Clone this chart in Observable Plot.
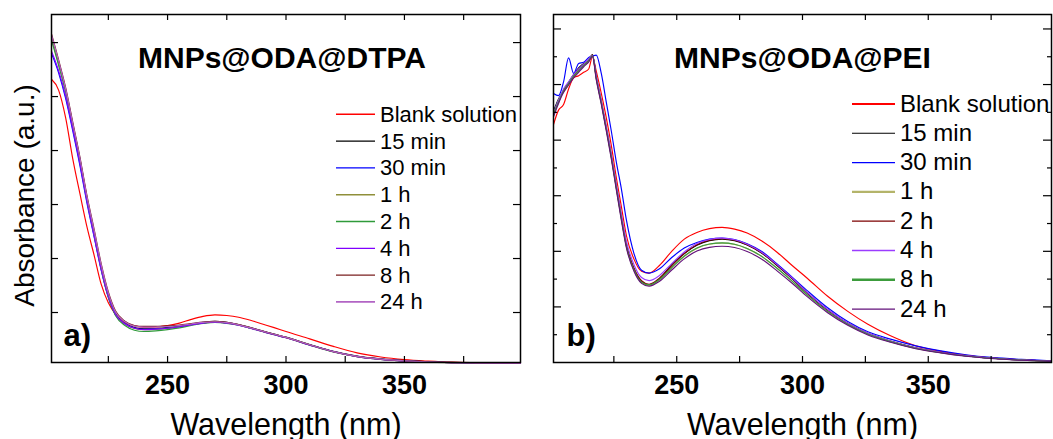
<!DOCTYPE html>
<html>
<head>
<meta charset="utf-8">
<script src="https://cdn.jsdelivr.net/npm/d3@7"></script>
<script src="https://cdn.jsdelivr.net/npm/@observablehq/plot@0.6"></script>
<style>
  html, body { margin: 0; padding: 0; background: #fff; }
  body { width: 1053px; height: 439px; overflow: hidden; font-family: "Liberation Sans", Arial, sans-serif; }
  #wrap { position: relative; width: 1053px; height: 439px; }
  .pane { position: absolute; top: 0; height: 439px; }
  .pane svg { display: block; max-width: none; }
</style>
</head>
<body>
<div id="wrap">
  <div class="pane" id="pa" style="left:0;width:530px"></div>
  <div class="pane" id="pb" style="left:530px;width:523px"></div>
</div>
<script>
// ---------- shared labels ----------
const seriesNames = ["Blank solution", "15 min", "30 min", "1 h", "2 h", "4 h", "8 h", "24 h"];
const xTickLabels = [250, 300, 350];
const xTicksAll = [225, 250, 275, 300, 325, 350, 375];
const xLabel = "Wavelength (nm)";
const yLabel = "Absorbance (a.u.)";

// ---------- panel a: MNPs@ODA@DTPA ----------
const titleA = "MNPs@ODA@DTPA";
const tagA = "a)";
const wlA = [201,204,207,210,213,216,219,222,225,228,232,236,240,245,250,255,260,265,270,275,280,285,290,295,300,310,320,330,340,350,360,370,380,399];
const blankA = [1.33,1.28,1.15,0.96,0.80,0.645,0.515,0.38,0.295,0.243,0.205,0.188,0.182,0.183,0.19,0.201,0.218,0.232,0.239,0.236,0.228,0.214,0.197,0.180,0.162,0.128,0.093,0.063,0.044,0.032,0.025,0.020,0.018,0.016];
const min15A = [1.53,1.41,1.28,1.12,0.96,0.78,0.62,0.46,0.33,0.245,0.20,0.180,0.174,0.176,0.180,0.186,0.196,0.205,0.209,0.204,0.194,0.180,0.165,0.150,0.136,0.102,0.070,0.048,0.035,0.027,0.022,0.019,0.017,0.016];
const min30A = [1.45,1.36,1.24,1.09,0.93,0.755,0.60,0.445,0.32,0.24,0.198,0.178,0.172,0.174,0.178,0.185,0.194,0.202,0.206,0.202,0.192,0.178,0.163,0.148,0.134,0.100,0.069,0.047,0.034,0.026,0.021,0.018,0.017,0.016];
const h1A = [1.52,1.40,1.275,1.115,0.955,0.775,0.615,0.455,0.325,0.242,0.197,0.176,0.170,0.172,0.177,0.184,0.194,0.202,0.206,0.202,0.192,0.178,0.163,0.148,0.134,0.100,0.068,0.046,0.033,0.025,0.020,0.018,0.017,0.016];
const h2A = [1.51,1.395,1.27,1.11,0.95,0.77,0.61,0.45,0.32,0.236,0.19,0.168,0.162,0.165,0.171,0.179,0.190,0.199,0.204,0.200,0.191,0.177,0.162,0.147,0.133,0.099,0.067,0.046,0.033,0.025,0.020,0.018,0.016,0.015];
const h4A = [1.46,1.37,1.25,1.10,0.94,0.765,0.605,0.45,0.325,0.242,0.198,0.177,0.171,0.173,0.177,0.184,0.193,0.201,0.205,0.201,0.191,0.177,0.162,0.147,0.133,0.099,0.068,0.046,0.033,0.025,0.020,0.018,0.016,0.015];
const h8A = [1.54,1.42,1.29,1.13,0.97,0.79,0.635,0.475,0.345,0.258,0.21,0.19,0.186,0.186,0.188,0.192,0.199,0.206,0.209,0.204,0.194,0.180,0.164,0.149,0.135,0.101,0.069,0.047,0.034,0.026,0.021,0.018,0.017,0.016];
const h24A = [1.535,1.415,1.285,1.125,0.965,0.785,0.63,0.47,0.34,0.254,0.207,0.187,0.182,0.183,0.185,0.19,0.197,0.204,0.207,0.203,0.193,0.179,0.164,0.149,0.135,0.101,0.069,0.047,0.034,0.026,0.021,0.018,0.017,0.016];
const colorsA = ["#ff0000", "#000000", "#0000ff", "#8f8f3a", "#2f9a3a", "#8000ff", "#7a1f1f", "#b264c4"];
const yMajorA = [0.25, 0.5, 0.75, 1.0, 1.25, 1.5];

// ---------- panel b: MNPs@ODA@PEI ----------
const titleB = "MNPs@ODA@PEI";
const tagB = "b)";
const wlB = [201,203,205,207,209,211,213,215,216.5,218,220,222,224,226,228,230,233,236,239,243,248,253,258,263,268,273,278,284,290,296,302,310,318,326,335,345,355,365,375,387,399];
const blankB = [1.07,1.135,1.16,1.23,1.28,1.29,1.305,1.32,1.375,1.31,1.21,1.10,0.975,0.83,0.70,0.57,0.465,0.41,0.402,0.435,0.50,0.555,0.585,0.602,0.608,0.600,0.582,0.545,0.495,0.435,0.378,0.298,0.23,0.172,0.12,0.075,0.05,0.032,0.02,0.012,0.006];
const min15B = [1.13,1.185,1.22,1.26,1.295,1.325,1.345,1.36,1.385,1.28,1.17,1.05,0.925,0.785,0.65,0.525,0.42,0.365,0.348,0.375,0.44,0.49,0.527,0.548,0.555,0.548,0.528,0.49,0.435,0.375,0.31,0.235,0.175,0.13,0.095,0.065,0.045,0.03,0.02,0.012,0.006];
const min30B = [1.21,1.20,1.262,1.37,1.30,1.345,1.35,1.372,1.378,1.382,1.30,1.17,1.04,0.90,0.78,0.64,0.49,0.415,0.402,0.42,0.472,0.515,0.540,0.555,0.560,0.553,0.534,0.498,0.442,0.383,0.322,0.246,0.184,0.138,0.105,0.075,0.052,0.035,0.023,0.014,0.008];
const h1B = [1.11,1.18,1.215,1.25,1.285,1.31,1.335,1.352,1.378,1.275,1.165,1.045,0.92,0.78,0.645,0.52,0.415,0.36,0.347,0.37,0.425,0.477,0.513,0.532,0.537,0.531,0.512,0.475,0.422,0.364,0.302,0.229,0.171,0.127,0.093,0.063,0.044,0.029,0.019,0.011,0.005];
const h2B = [1.12,1.17,1.225,1.258,1.29,1.318,1.34,1.362,1.383,1.285,1.175,1.055,0.93,0.79,0.655,0.53,0.425,0.368,0.352,0.378,0.435,0.49,0.53,0.55,0.557,0.55,0.53,0.492,0.437,0.377,0.312,0.237,0.176,0.131,0.096,0.066,0.046,0.031,0.02,0.012,0.006];
const h4B = [1.125,1.18,1.23,1.262,1.295,1.32,1.342,1.365,1.38,1.29,1.18,1.062,0.94,0.80,0.668,0.545,0.44,0.382,0.368,0.39,0.445,0.497,0.535,0.553,0.559,0.552,0.532,0.494,0.439,0.379,0.313,0.238,0.177,0.132,0.097,0.066,0.046,0.031,0.02,0.012,0.006];
const h8B = [1.12,1.172,1.222,1.254,1.288,1.312,1.336,1.358,1.379,1.28,1.17,1.05,0.925,0.785,0.648,0.522,0.417,0.361,0.349,0.372,0.427,0.479,0.515,0.533,0.538,0.532,0.513,0.476,0.423,0.365,0.303,0.23,0.172,0.128,0.094,0.064,0.044,0.029,0.019,0.011,0.005];
const h24B = [1.105,1.165,1.215,1.248,1.28,1.305,1.33,1.352,1.376,1.272,1.162,1.042,0.915,0.775,0.638,0.515,0.41,0.356,0.343,0.364,0.416,0.466,0.501,0.518,0.523,0.517,0.499,0.463,0.411,0.355,0.295,0.224,0.167,0.124,0.091,0.062,0.043,0.028,0.018,0.01,0.005];
const colorsB = ["#ff0000", "#000000", "#0000ff", "#b4b46a", "#7d0000", "#9b3cff", "#3c9c3c", "#62107a"];
const yMajorB = [0.25, 0.5, 0.75, 1.0, 1.25, 1.5];
const yMinorB = [0.125, 0.375, 0.625, 0.875, 1.125, 1.375];

const H = 439, MT = 14, MB = 77;
const FONT = '"Liberation Sans", Arial, sans-serif';

function buildPanel(cfg) {
  const rows = seriesNames.flatMap((n, k) => cfg.wl.map((w, i) => ({name: n, wl: w, v: cfg.series[k][i]})));
  const innerW = cfg.width - cfg.ml - cfg.mr;
  const innerH = H - MT - MB;
  const tick = {stroke: "#000", strokeWidth: 1.2};
  const marks = [
    Plot.lineY(rows, {x: "wl", y: "v", z: "name", stroke: "name", strokeWidth: 1.15, curve: "monotone-x"}),
    Plot.ruleX(xTicksAll, {x: d => d, insetTop: innerH - 6, ...tick}),
    Plot.ruleX(xTicksAll, {x: d => d, insetBottom: innerH - 6, ...tick}),
    Plot.ruleY(cfg.yMajor, {y: d => d, insetRight: innerW - cfg.majorLen, ...tick}),
    Plot.ruleY(cfg.yMajor, {y: d => d, insetLeft: innerW - cfg.majorLen, ...tick}),
    Plot.ruleY(cfg.yMinor, {y: d => d, insetRight: innerW - 4, ...tick}),
    Plot.ruleY(cfg.yMinor, {y: d => d, insetLeft: innerW - 4, ...tick}),
    Plot.frame({stroke: "#000", strokeWidth: 1.5}),
    Plot.text(xTickLabels, {x: d => d, text: d => String(d), frameAnchor: "bottom", textAnchor: "middle", lineAnchor: "bottom", dy: 31, fontSize: 27, fontWeight: "bold"}),
    Plot.text([xLabel], {frameAnchor: "bottom", textAnchor: "middle", lineAnchor: "bottom", dy: 72, fontSize: 30.5}),
    Plot.text([cfg.title], {frameAnchor: "top", textAnchor: "middle", lineAnchor: "bottom", dy: 53, dx: cfg.titleDx, fontSize: 30, fontWeight: "bold"}),
    Plot.text([cfg.tag], {frameAnchor: "bottom-left", textAnchor: "start", lineAnchor: "bottom", dx: cfg.tagDx, dy: -17, fontSize: 31, fontWeight: "bold"})
  ];
  if (cfg.ylabel) {
    marks.push(Plot.text([cfg.ylabel], {frameAnchor: "left", textAnchor: "middle", rotate: -90, lineAnchor: "bottom", dx: -18, dy: 7, fontSize: 28}));
  }
  const svg = Plot.plot({
    width: cfg.width,
    height: H,
    marginTop: MT,
    marginBottom: MB,
    marginLeft: cfg.ml,
    marginRight: cfg.mr,
    x: {domain: [201, 399], axis: null},
    y: {domain: cfg.yDomain, axis: null},
    color: {domain: seriesNames, range: cfg.colors},
    style: {fontFamily: FONT, color: "#000", background: "transparent", overflow: "visible"},
    marks
  });
  // in-plot legend
  const g = d3.select(svg).append("g").attr("text-anchor", "start");
  seriesNames.forEach((n, i) => {
    const y = cfg.leg.y0 + i * cfg.leg.step;
    g.append("line").attr("x1", cfg.leg.x1).attr("x2", cfg.leg.x2).attr("y1", y).attr("y2", y)
      .attr("stroke", cfg.colors[i]).attr("stroke-width", cfg.leg.sw[i]);
    g.append("text").attr("x", cfg.leg.tx).attr("y", y + cfg.leg.off)
      .attr("text-anchor", "start")
      .attr("font-size", cfg.leg.fs).attr("fill", "#000")
      .attr("font-family", FONT).text(n);
  });
  return svg;
}

document.getElementById("pa").appendChild(buildPanel({
  wl: wlA, series: [blankA, min15A, min30A, h1A, h2A, h4A, h8A, h24A], colors: colorsA,
  width: 530, ml: 51, mr: 10, yDomain: [0.0185, 1.63], yMajor: yMajorA, yMinor: [], majorLen: 7,
  title: titleA, titleDx: -4, tag: tagA, tagDx: 12, ylabel: yLabel,
  leg: {x1: 336, x2: 375, tx: 380, y0: 114.3, step: 26.8, off: 7.5, fs: 22, sw: [1.6, 1.2, 1.3, 1.6, 1.6, 1.3, 1.3, 1.8]}
}));

document.getElementById("pb").appendChild(buildPanel({
  wl: wlB, series: [blankB, min15B, min30B, h1B, h2B, h4B, h8B, h24B], colors: colorsB,
  width: 523, ml: 23, mr: 2, yDomain: [0, 1.565], yMajor: yMajorB, yMinor: yMinorB, majorLen: 8,
  title: titleB, titleDx: 0, tag: tagB, tagDx: 13, ylabel: null,
  leg: {x1: 322, x2: 365, tx: 370, y0: 104, step: 29.3, off: 7.5, fs: 24, sw: [2, 1.1, 1.3, 2.2, 1.3, 1.6, 2.4, 1.3]}
}));
</script>
</body>
</html>
